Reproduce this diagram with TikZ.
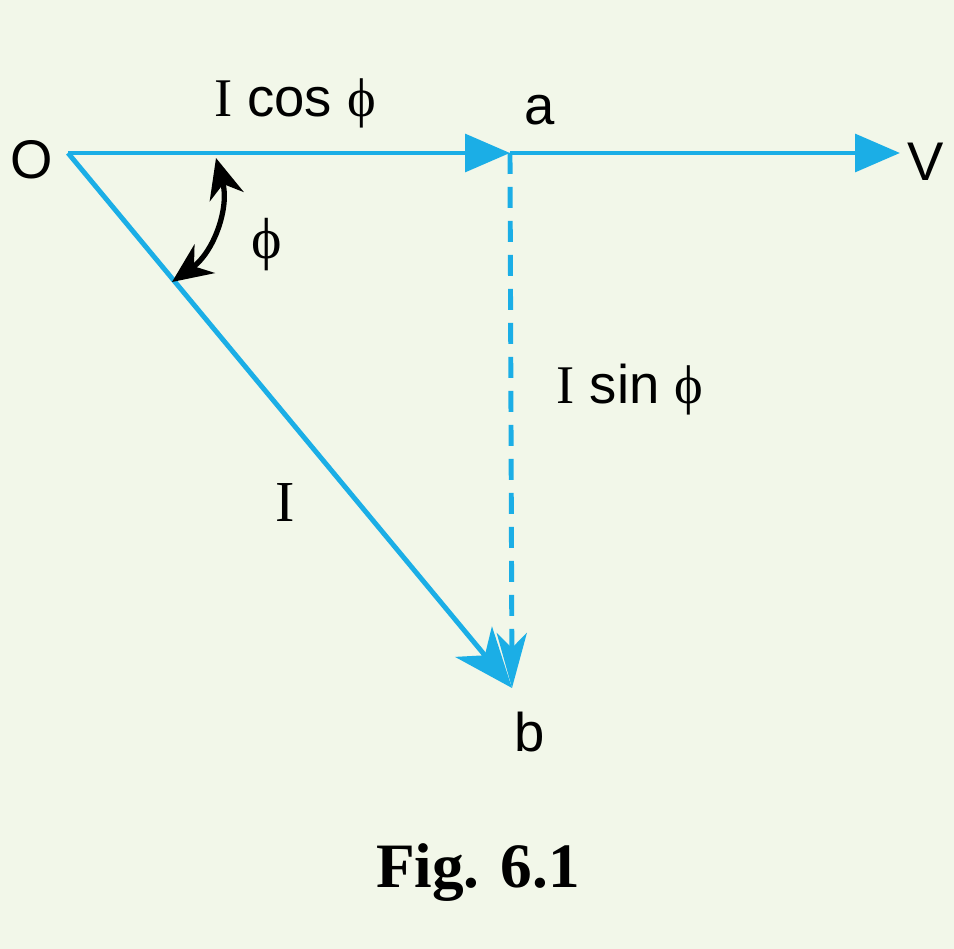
\documentclass[tikz,border=0pt]{standalone}
\usepackage{fontspec}
\setmainfont{Liberation Serif}
\setsansfont{Liberation Sans}
\usetikzlibrary{arrows.meta}
\definecolor{bgcol}{HTML}{F2F7E9}
\definecolor{phasor}{HTML}{1BAEE6}
\tikzset{vec/.style={phasor, line width=2.8pt, -{Triangle[length=0.9cm,width=0.75cm]}},
  lab/.style={font=\sffamily\fontsize{31}{36}\selectfont},
  sym/.style={font=\fontsize{33}{38}\selectfont}}
\begin{document}
\begin{tikzpicture}[x=0.02cm,y=-0.02cm]
\fill[bgcol] (0,0) rectangle (954,949);
\useasboundingbox (0,0) rectangle (954,949);

\coordinate (o) at (68,153);
\coordinate (a) at (510,153);
\coordinate (v) at (900,153);
\coordinate (b) at (512,688);

\draw[vec] (o) -- (a);
\draw[vec] (a) -- (v);
\draw[vec, -{Stealth[length=1.2cm,width=0.95cm,inset=0.35cm]}] (o) -- (b);
\draw[phasor, line width=2.8pt, dash pattern=on 0.42cm off 0.26cm,
  -{Stealth[length=1.1cm,width=0.6cm,inset=0.3cm]}] (a) -- (b);
\draw[line width=3pt, {Stealth[length=0.8cm,width=0.7cm]}-{Stealth[length=0.8cm,width=0.7cm]}]
  (216,158) to[bend left=35] (172,282);

\node[lab] (olab) at (32,160) {O};
\node[lab] (alab) at (540,110) {a};
\node[lab] (vlab) at (926,162) {V};
\node[lab] (blab) at (530,732) {b};
\node[sym] (phi) at (267,245) {ϕ};
\node[lab] (icos) at (295,103) {{\rmfamily I} cos {\rmfamily ϕ}};
\node[lab] (isin) at (630,390) {{\rmfamily I} sin {\rmfamily ϕ}};
\node[sym] (ilab) at (285,503) {I};
\node[font=\bfseries\fontsize{36}{42}\selectfont] (fig) at (478,873) {Fig. 6.1};
\end{tikzpicture}
\end{document}
